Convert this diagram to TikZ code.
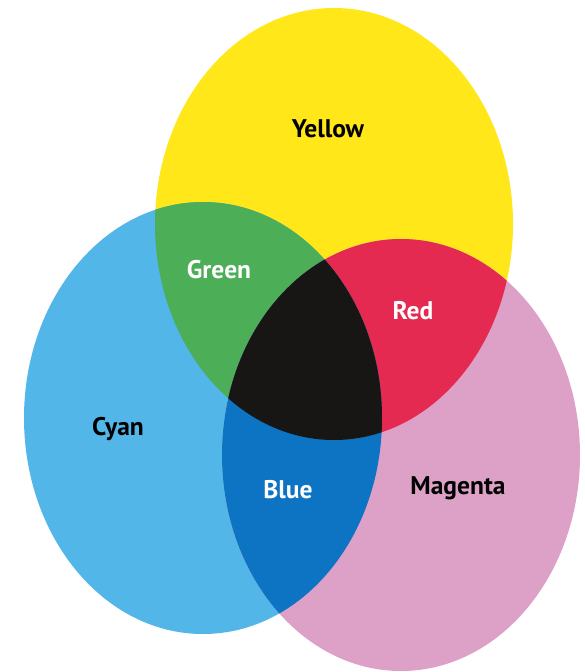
\documentclass[tikz,border=0pt]{standalone}
\usepackage{fontspec}
\setmainfont{PT Sans}
\usepackage{xcolor}
\usepackage{tikz}
\definecolor{inkYellow}{RGB}{255,231,26}
\definecolor{inkCyan}{RGB}{82,182,232}
\definecolor{inkMagenta}{RGB}{221,160,199}
\definecolor{inkGreen}{RGB}{76,174,86}
\definecolor{inkRed}{RGB}{228,42,80}
\definecolor{inkBlue}{RGB}{12,116,194}
\definecolor{inkBlack}{RGB}{24,22,20}

\begin{document}
\begin{tikzpicture}[x=1pt, y=-1pt,
    blob/.style={x radius=179pt, y radius=216pt},
    darklabel/.style={anchor=base, inner sep=0pt, text=black,
      font=\bfseries\fontsize{25.5}{25.5}\selectfont},
    lightlabel/.style={darklabel, text=white}
  ]
    \useasboundingbox (0,0) rectangle (584,672);
    \fill[white] (0,0) rectangle (584,672);
    \coordinate (ycen) at (334,224);
    \coordinate (ccen) at (203,418);
    \coordinate (mcen) at (401,455);
    % the three inks
    \fill[inkYellow] (ycen) ellipse [blob];
    \fill[inkCyan] (ccen) ellipse [blob];
    \fill[inkMagenta] (mcen) ellipse [blob];
    % two-ink overlaps
    \begin{scope}
      \clip (ycen) ellipse [blob];
      \fill[inkGreen] (ccen) ellipse [blob];
      \fill[inkRed] (mcen) ellipse [blob];
    \end{scope}
    \begin{scope}
      \clip (ccen) ellipse [blob];
      \fill[inkBlue] (mcen) ellipse [blob];
    \end{scope}
    % all three
    \begin{scope}
      \clip (ycen) ellipse [blob];
      \clip (ccen) ellipse [blob];
      \fill[inkBlack] (mcen) ellipse [blob];
    \end{scope}
    \node[darklabel] (yellow) at (328,137) {Yellow};
    \node[lightlabel] (green) at (219,278) {Green};
    \node[lightlabel] (red) at (413,319) {Red};
    \node[darklabel] (cyan) at (118,435) {Cyan};
    \node[lightlabel] (blue) at (288,498) {Blue};
    \node[darklabel] (magenta) at (458,494) {Magenta};
  \end{tikzpicture}
\end{document}
